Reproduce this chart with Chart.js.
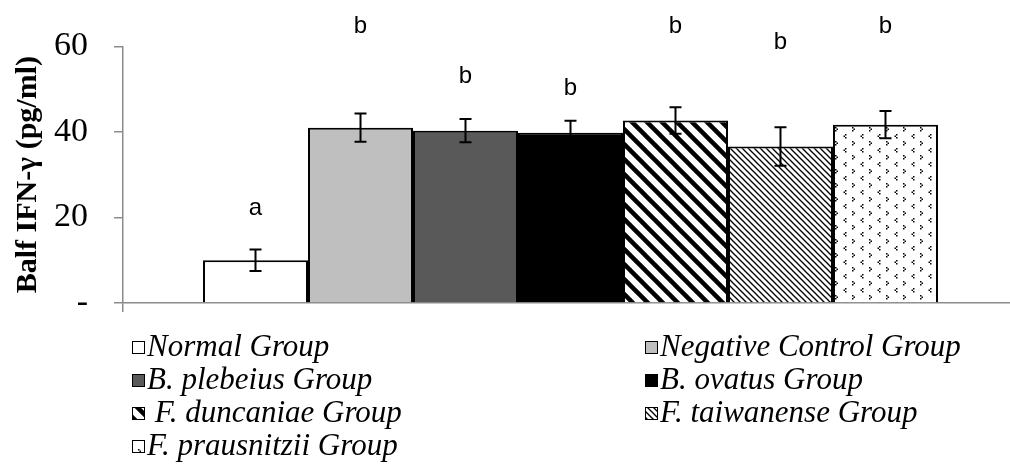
<!DOCTYPE html>
<html lang="en">
<head>
  <meta charset="UTF-8" />
  <title>Balf IFN-γ</title>
  <script src="https://cdn.jsdelivr.net/npm/chart.js"></script>
  <style>
    html, body { margin: 0; padding: 0; background: #fff; overflow: hidden; }
    #wrap { position: relative; width: 1030px; height: 465px; }
  </style>
</head>
<body>
  <div id="wrap"><canvas id="ifnChart"></canvas></div>

  <script>
    // data
    const groups = ['Normal Group', 'Negative Control Group', 'B. plebeius Group', 'B. ovatus Group',
                    ' F. duncaniae Group', 'F. taiwanense Group', 'F. prausnitzii Group'];
    const means = [10.0, 41.0, 40.3, 39.8, 42.7, 36.6, 41.7];
    const errors = [2.5, 3.3, 2.7, 2.8, 3.1, 4.5, 3.2];
    const letters = ['a', 'b', 'b', 'b', 'b', 'b', 'b'];
    const letterAt = [22.2, 64.6, 53.1, 50.1, 64.6, 60.9, 64.6];
    const yTicks = [0, 20, 40, 60];

    const axisGray = '#8c8c8c';

    // fill patterns
    function makeTile(w, h, paint) {
      const c = document.createElement('canvas');
      c.width = w; c.height = h;
      const g = c.getContext('2d');
      g.fillStyle = '#fff';
      g.fillRect(0, 0, w, h);
      paint(g, w, h);
      return document.createElement('canvas').getContext('2d').createPattern(c, 'repeat');
    }

    function diagTile(size, width) {
      return makeTile(size, size, (g, w, h) => {
        g.strokeStyle = '#000';
        g.lineWidth = width;
        for (let k = -1; k <= 1; k++) {
          g.beginPath();
          g.moveTo(k * w - 2, -2);
          g.lineTo(k * w + w + 2, h + 2);
          g.stroke();
        }
      });
    }

    const wideStripes = diagTile(15, 4.5);
    const fineStripes = diagTile(6, 1.3);
    const chevrons = makeTile(17, 14, (g) => {
      g.fillStyle = '#000';
      // ">" mark
      g.fillRect(2, 1, 1.5, 1.5); g.fillRect(3.5, 2.5, 1.5, 1.5); g.fillRect(2, 4, 1.5, 1.5);
      // "<" mark
      g.fillRect(12, 8, 1.5, 1.5); g.fillRect(10.5, 9.5, 1.5, 1.5); g.fillRect(12, 11, 1.5, 1.5);
    });

    const fills = ['#ffffff', '#bfbfbf', '#595959', '#000000', wideStripes, fineStripes, chevrons];

    const errorBars = {
      id: 'errorBars',
      afterDatasetsDraw(chart) {
        const ctx = chart.ctx;
        const y = chart.scales.y;
        ctx.save();
        ctx.strokeStyle = '#000';
        ctx.lineWidth = 2;
        means.forEach((m, i) => {
          const bar = chart.getDatasetMeta(i).data[0];
          const top = y.getPixelForValue(m + errors[i]);
          const bot = y.getPixelForValue(m - errors[i]);
          ctx.beginPath();
          ctx.moveTo(bar.x, top); ctx.lineTo(bar.x, bot);
          ctx.moveTo(bar.x - 6, top); ctx.lineTo(bar.x + 6, top);
          ctx.moveTo(bar.x - 6, bot); ctx.lineTo(bar.x + 6, bot);
          ctx.stroke();
        });
        // significance letters
        ctx.fillStyle = '#000';
        ctx.font = '24px "Liberation Sans", sans-serif';
        ctx.textAlign = 'center';
        ctx.textBaseline = 'middle';
        letters.forEach((t, i) => {
          const bar = chart.getDatasetMeta(i).data[0];
          ctx.fillText(t, bar.x, y.getPixelForValue(letterAt[i]));
        });
        ctx.restore();
      }
    };

    // two-column legend under the plot
    const legendBlock = {
      id: 'legendBlock',
      afterDraw(chart) {
        const ctx = chart.ctx;
        const colX = [132, 645];
        const rowY = [347, 380, 413, 446];
        ctx.save();
        ctx.font = 'italic 31px "Liberation Serif", serif';
        ctx.textBaseline = 'middle';
        ctx.textAlign = 'left';
        groups.forEach((name, i) => {
          const x = colX[i % 2];
          const yy = rowY[Math.floor(i / 2)];
          ctx.fillStyle = fills[i];
          ctx.fillRect(x, yy - 6, 12, 12);
          ctx.strokeStyle = '#000';
          ctx.lineWidth = 1;
          ctx.strokeRect(x + 0.5, yy - 5.5, 12, 12);
          ctx.fillStyle = '#000';
          ctx.fillText(name, x + 15, yy + 1);
        });
        ctx.restore();
      }
    };

    new Chart(document.getElementById('ifnChart'), {
      type: 'bar',
      data: {
        labels: [''],
        datasets: groups.map((g, i) => ({
          label: g,
          data: [means[i]],
          backgroundColor: fills[i],
          borderColor: '#000',
          borderWidth: 2
        }))
      },
      options: {
        responsive: true,
        maintainAspectRatio: false,
        animation: false,
        categoryPercentage: 0.8212,
        barPercentage: 1,
        layout: { padding: { left: 4, right: 12, top: 46, bottom: 153 } },
        plugins: {
          legend: { display: false },
          tooltip: { enabled: false }
        },
        scales: {
          x: {
            grid: { drawOnChartArea: false, color: axisGray, tickLength: 9, lineWidth: 1.5 },
            border: { color: axisGray, width: 1.5 },
            ticks: { display: false }
          },
          y: {
            min: 0,
            max: 60,
            afterBuildTicks(scale) { scale.ticks = yTicks.map(v => ({ value: v })); },
            grid: { drawOnChartArea: false, color: axisGray, tickLength: 9, lineWidth: 1.5 },
            border: { color: axisGray, width: 1.5 },
            ticks: {
              color: '#000',
              padding: 26,
              font: { family: '"Liberation Serif", serif', size: 34 },
              callback: v => (v === 0 ? '-' : v)
            },
            title: {
              display: true,
              text: 'Balf IFN-γ (pg/ml)',
              color: '#000',
              font: { family: '"Liberation Serif", serif', size: 30, weight: 'bold' },
              padding: { top: 6, bottom: -18 }
            }
          }
        }
      },
      plugins: [errorBars, legendBlock]
    });
  </script>
</body>
</html>
